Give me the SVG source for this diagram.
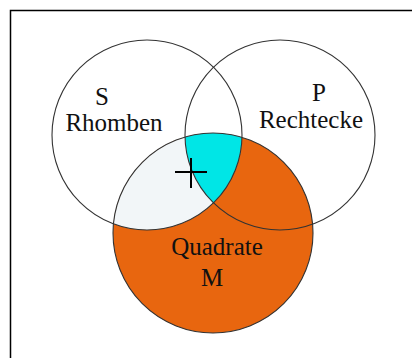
<svg xmlns="http://www.w3.org/2000/svg" width="412" height="358" viewBox="0 0 412 358">
<style>
.ring{fill:none;stroke:#333;stroke-width:1.1}
.lbl{font-family:"Liberation Serif","Times New Roman",serif;font-size:25px;text-anchor:middle;fill:#111}
</style>
<defs>
<clipPath id="cS"><circle cx="147" cy="135" r="95"/></clipPath>
<clipPath id="cM"><circle cx="213" cy="233" r="100"/></clipPath>
</defs>
<rect width="412" height="358" fill="#fff"/>
<path d="M10.5 358 V10.5 H412" fill="none" stroke="#000" stroke-width="1.5"/>
<g id="regions">
<circle cx="213" cy="233" r="100" fill="#E8660F"/>
<g clip-path="url(#cS)">
<circle cx="213" cy="233" r="100" fill="#F2F6F8"/>
<circle cx="280" cy="135" r="95" fill="#00E6E6" clip-path="url(#cM)"/>
</g>
</g>
<g id="S"><circle class="ring" cx="147" cy="135" r="95"/>
<text class="lbl" x="102" y="105">S</text>
<text class="lbl" x="114" y="131">Rhomben</text></g>
<g id="P"><circle class="ring" cx="280" cy="135" r="95"/>
<text class="lbl" x="319" y="101">P</text>
<text class="lbl" x="311" y="127.5">Rechtecke</text></g>
<g id="M"><circle class="ring" cx="213" cy="233" r="100"/>
<text class="lbl" x="217" y="255" fill="#2a1200">Quadrate</text>
<text class="lbl" x="212" y="286" fill="#2a1200">M</text></g>
<g id="plus" stroke="#000" stroke-width="2">
<line x1="175" y1="172" x2="207" y2="172"/>
<line x1="191" y1="158" x2="191" y2="188"/>
</g>
</svg>
